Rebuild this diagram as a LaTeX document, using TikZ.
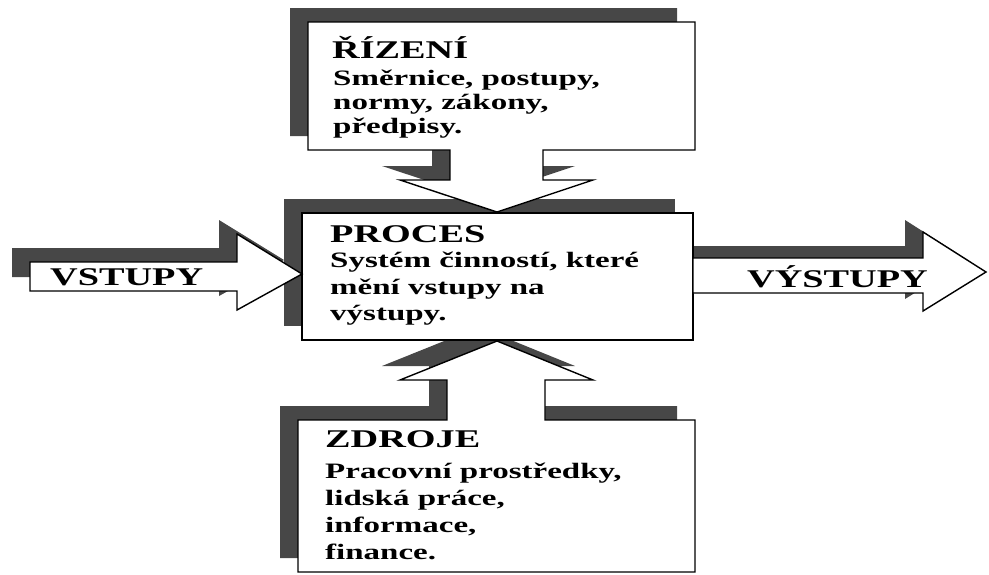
\documentclass[tikz,border=0pt]{standalone}
\usepackage{fontspec}
\setmainfont{Liberation Serif}[FakeStretch=1.5]

\tikzset{
  shadowfill/.style={fill=black!72, draw=none},
  panel/.style={fill=white, draw=black, line width=1.4pt, line join=miter},
  heading/.style={anchor=base west, inner sep=0pt, font=\fontsize{25.5}{30}\selectfont\bfseries},
  bodytext/.style={anchor=base west, inner sep=0pt, font=\fontsize{22}{26}\selectfont\bfseries},
}

% outlines of the panels (picture pixels, y going down)
\newcommand\rizenishape{(308,22) -- (695,22) -- (695,150) -- (543,150) -- (543,180) -- (593,180) -- (497,212) -- (400,180) -- (450,180) -- (450,150) -- (308,150) -- cycle}
\newcommand\processhape{(302,213) rectangle (693,340)}
\newcommand\zdrojeshape{(298,420) -- (447,420) -- (447,380) -- (400,380) -- (497,341) -- (593,380) -- (545,380) -- (545,420) -- (695,420) -- (695,572) -- (298,572) -- cycle}
\newcommand\vstupyshape{(30,262) -- (237,262) -- (237,234) -- (302,274) -- (237,310) -- (237,291) -- (30,291) -- cycle}
\newcommand\vystupyshape{(693,258) -- (923,258) -- (923,232) -- (986,272) -- (923,311) -- (923,293) -- (693,293) -- cycle}

\begin{document}
\begin{tikzpicture}[x=1pt,y=-1pt]
      \useasboundingbox (0,0) rectangle (989,574);

      % shadows
      \fill[shadowfill, shift={(-18,-14)}] \rizenishape;
      \fill[shadowfill, shift={(-18,-14)}] \processhape;
      \fill[shadowfill, shift={(-18,-14)}] \zdrojeshape;
      \fill[shadowfill, shift={(-18,-14)}] \vstupyshape;
      \fill[shadowfill, shift={(-18,-12)}] \vystupyshape;

      % panels
      \draw[panel] \processhape;
      \draw[panel] \vstupyshape;
      \draw[panel] \vystupyshape;
      \draw[panel] \rizenishape;
      \draw[panel] \zdrojeshape;

      \node[heading] (rizeni) at (332,58) {ŘÍZENÍ};
      \foreach \txt [count=\i] in {{Směrnice, postupy,}, {normy, zákony,}, {předpisy.}}
        \node[bodytext] (rizeni-\i) at (333,{61+24*\i}) {\txt};

      \node[heading] (proces) at (330,242) {PROCES};
      \foreach \txt [count=\i] in {{Systém činností, které}, {mění vstupy na}, {výstupy.}}
        \node[bodytext] (proces-\i) at (330,{241+26.5*\i}) {\txt};

      \node[heading] (zdroje) at (325,447) {ZDROJE};
      \foreach \txt [count=\i] in {{Pracovní prostředky,}, {lidská práce,}, {informace,}, {finance.}}
        \node[bodytext] (zdroje-\i) at (325,{451+27*\i}) {\txt};

      \node[heading] (vstupy) at (50,285) {VSTUPY};
      \node[heading] (vystupy) at (747,287) {VÝSTUPY};
    \end{tikzpicture}
\end{document}
